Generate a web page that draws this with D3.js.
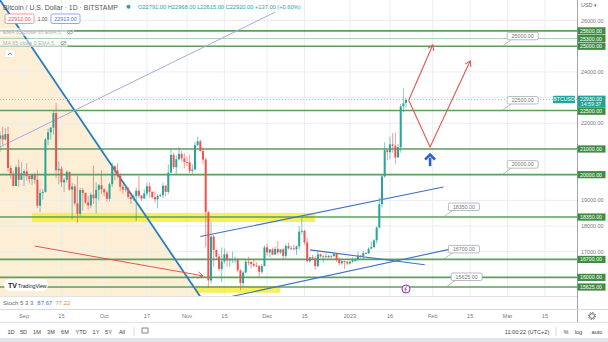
<!DOCTYPE html>
<html><head><meta charset="utf-8">
<script src="https://cdn.jsdelivr.net/npm/d3@7"></script>
<style>
html,body{margin:0;padding:0;background:#fff;overflow:hidden}
svg{display:block;font-family:"Liberation Sans",Arial,sans-serif}
</style></head><body>
<svg id="chart" width="608" height="342"></svg>
<script>
// ---- Daily BTC/USD candles, Bitstamp, from 2022-08-23 ----
const firstDay = "2022-08-23";
const opens = [
 21400,21530,21370,21580,20260,20040,19560,20290,19800,
 20050,20130,19950,19830,20000,19800,18790,19290,19320,21370,21650,21830,22400,20170,20230,19700,19800,20110,19420,19540,18880,18480,19400,19290,18920,18800,19220,19080,19410,19590,
 19430,19310,19060,19630,20330,20160,19960,19530,19420,19450,19130,19050,19160,19380,19180,19070,19270,19550,19330,19120,19040,19170,19200,19570,19330,20080,20770,20290,20600,20810,20630,
 20490,20480,20150,20200,21150,21300,20920,20590,18540,15880,17590,17070,16810,16330,16620,16900,16660,16690,16700,16700,16280,15780,16190,16610,16600,16520,16460,16440,16220,16440,
 17170,16970,17090,16890,17110,16970,17090,16840,17220,17130,17130,17090,17210,17780,17810,17360,16630,16780,16740,16440,16900,16820,16820,16780,16840,16830,16920,16700,16550,16630,16600,
 16540,16610,16670,16670,16850,16830,16950,16940,17120,17180,17440,17940,18850,19930,20950,20880,21180,21130,20670,21070,22660,22791];
const highs = [
 21680,21860,21810,21870,20350,20140,20380,20580,20490,
 20200,20440,19970,20020,20050,20170,19450,19440,21430,21800,21850,22480,22780,20520,20330,19870,20170,20110,19690,19630,19950,19490,19480,19300,19170,19300,20350,19700,19640,20170,
 19480,19400,19700,20460,20360,20440,20060,19620,19550,19520,19260,19220,19510,19950,19220,19420,19670,19700,19360,19350,19250,19260,19690,19600,20400,20990,20850,20740,21080,20920,20840,
 20700,20780,20390,21280,21470,21360,21070,20680,18590,18150,17660,17080,16910,17170,17120,17000,16750,17010,16810,16750,16310,16250,16670,16800,16610,16680,16590,16480,16530,17240,
 17320,17100,17160,17200,17420,17100,17140,17300,17350,17230,17270,17240,18000,18380,17850,17530,16800,16870,16820,17060,16920,16870,16940,16870,16860,16950,16960,16780,16660,16640,16640,
 16630,16780,16760,16990,16880,17020,16980,17170,17400,17490,17990,19100,19980,21260,21000,21480,21620,21650,21190,22750,23370,22968];
const lows = [
 20890,21160,21320,20120,19840,19550,19550,19540,19800,
 19560,19760,19660,19600,19650,18700,18540,19030,19310,21140,21360,21560,19860,19630,19520,19320,19700,19380,18270,18800,18130,18390,18600,18850,18640,18690,18860,18490,19000,19250,
 19160,18950,18960,19520,19780,19860,19350,19260,19320,19050,18860,18980,18190,19080,18980,19070,19170,19110,19070,18910,18680,19120,19080,19160,19250,20060,20220,20000,20550,20520,20240,
 20340,20060,20040,20190,21110,20900,20400,17170,15600,15750,16400,16720,16250,15820,16540,16420,16410,16560,16550,16200,15500,15620,16160,16460,16360,16410,16400,16000,16140,16430,
 16850,16800,16860,16880,16880,16910,16680,16740,17080,17090,17070,16870,17080,17660,17280,16580,16580,16680,16300,16400,16760,16570,16770,16770,16740,16790,16600,16460,16490,16330,16490,
 16500,16550,16610,16660,16750,16680,16910,16910,17100,17150,17320,17930,18720,19890,20550,20600,20850,20410,20660,20860,22420,22615];
const closes = [
 21530,21370,21580,20260,20040,19560,20290,19800,20050,
 20130,19950,19830,20000,19800,18790,19290,19320,21370,21650,21830,22400,20170,20230,19700,19800,20110,19420,19540,18880,18480,19400,19290,18920,18800,19220,19080,19410,19590,19430,
 19310,19060,19630,20330,20160,19960,19530,19420,19450,19130,19050,19160,19380,19180,19070,19270,19550,19330,19120,19040,19170,19200,19570,19330,20080,20770,20290,20600,20810,20630,20490,
 20480,20150,20200,21150,21300,20920,20590,18540,15880,17590,17070,16810,16330,16620,16900,16660,16690,16700,16700,16280,15780,16190,16610,16600,16520,16460,16440,16220,16440,17170,
 16970,17090,16890,17110,16970,17090,16840,17220,17130,17130,17090,17210,17780,17810,17360,16630,16780,16740,16440,16900,16820,16820,16780,16840,16830,16920,16700,16550,16630,16600,16540,
 16610,16670,16670,16850,16830,16950,16940,17120,17180,17440,17940,18850,19930,20950,20880,21180,21130,20670,21070,22660,22783,22920];

// ---- axes ----
const priceTicks = [16000,17000,18000,19000,20000,21000,22000,23000,24000,25000,26000];
const dateTicks = ["2022-09-01","2022-09-15","2022-10-01","2022-10-17","2022-11-01","2022-11-15","2022-12-01","2022-12-15","2023-01-01","2023-01-16","2023-02-01","2023-02-15","2023-03-01","2023-03-15"];
const dateTickLabels = ["Sep","15","Oct","17","Nov","15","Dec","15","2023","16","Feb","15","Mar","15"];

// ---- horizontal support / resistance levels ----
const levels = [25600, 25300, 25000, 22500, 21000, 20000, 18350, 16700, 16000, 15625];
const calloutPrices = [25000, 22500, 20000, 18350, 16700, 15625];
const calloutDates = ["2023-02-27","2023-02-27","2023-02-27","2023-02-05","2023-02-05","2023-02-06"];

// ---- last price ----
const lastPrice = 22930;
const lastPriceCountdown = "14:59:37";

// ---- drawings: [date, price] anchors ----
const bigTrend = [["2022-08-23", 26800], ["2022-11-06", 15250]];
const thinTrend = [["2022-08-23", 21080], ["2022-12-04", 26330]];
const channelUpper = [["2022-11-06", 17590], ["2023-02-05", 19520]];
const channelLower = [["2022-11-17", 15240], ["2023-02-08", 17110]];
const pennantTop = [["2022-12-17", 17070], ["2023-01-29", 16490]];
const redArrowLeft = [["2022-09-05", 17220], ["2022-11-07", 16060]];
const forecastA = [["2023-01-23", 22900], ["2023-02-01", 25050]];
const forecastB = [["2023-01-23", 22900], ["2023-01-31", 21080], ["2023-02-15", 24430]];
const blueArrow = [["2023-01-31", 20330], ["2023-01-31", 20780]];
const zoneUpper = [["2022-09-04", 18510], ["2022-12-19", 18160]];
const zoneLower = [["2022-11-04", 15670], ["2022-12-06", 15400]];
const eventDate = "2023-01-22";

// ---- header ----
const title = "Bitcoin / U.S. Dollar · 1D · BITSTAMP";
const ohlcText = "O22791.00 H22968.00 L22615.00 C22920.00 +137.00 (+0.60%)";
const bidAsk = ["22912.00", "1.00", "22913.00"];
const studyRows = ["EMA 65 close 65 EMA 5", "MA 65 close 0 EMA 5"];
const stochLabel = ["Stoch 5 3 3", "87.67", "77.22"];
const ranges = ["1D","5D","1M","3M","6M","YTD","1Y","5Y","All"];
const clockText = "11:00:22 (UTC+2)";

// ================= drawing =================
const parse = d3.utcParse("%Y-%m-%d");
const PANE_R = 577, PANE_B = 296;
const x = d3.scaleUtc().domain([parse("2022-08-23"), parse("2023-03-27")]).range([0, PANE_R]);
const y = d3.scaleLinear().domain([15275, 26802]).range([PANE_B, 0]);
const fmt = d3.format(".2f");
const pt = a => [x(parse(a[0])), y(a[1])];

const candles = closes.map((c, i) => ({
  date: d3.utcDay.offset(parse(firstDay), i), o: opens[i], h: highs[i], l: lows[i], c
}));

const svg = d3.select("#chart");
svg.append("rect").attr("width", 608).attr("height", 342).attr("fill", "#fff");
svg.append("defs").append("clipPath").attr("id", "paneClip")
  .append("rect").attr("x", 0).attr("y", 0).attr("width", PANE_R).attr("height", PANE_B);
const pane = svg.append("g").attr("clip-path", "url(#paneClip)");

// extend a two-point line beyond the pane
function extend(a, b, t0, t1) {
  const [x0, y0] = pt(a), [x1, y1] = pt(b);
  return [[x0 + (x1 - x0) * t0, y0 + (y1 - y0) * t0], [x0 + (x1 - x0) * t1, y0 + (y1 - y0) * t1]];
}

// shaded triangle left of the main descending trend line
{
  const [p, q] = extend(bigTrend[0], bigTrend[1], -0.2, 1.2);
  pane.append("path")
    .attr("d", d3.line()([[-20, p[1]], p, q, [-20, q[1]]]) + "Z")
    .attr("fill", "#fdefd6");
}

// grid
pane.append("g").selectAll("line").data(dateTicks).join("line")
  .attr("x1", d => x(parse(d))).attr("x2", d => x(parse(d)))
  .attr("y1", 0).attr("y2", PANE_B).attr("stroke", "#eaedf3").attr("stroke-width", 1);
pane.append("g").selectAll("line").data(priceTicks).join("line")
  .attr("x1", 0).attr("x2", PANE_R).attr("y1", d => y(d)).attr("y2", d => y(d))
  .attr("stroke", "#eaedf3").attr("stroke-width", 1);

// highlighted zones
[zoneUpper, zoneLower].forEach(z => {
  const [a, b] = [pt(z[0]), pt(z[1])];
  pane.append("rect").attr("x", a[0]).attr("y", a[1]).attr("width", b[0] - a[0]).attr("height", b[1] - a[1])
    .attr("fill", "#f5ec35").attr("opacity", 0.8);
});

// horizontal levels
pane.append("g").selectAll("line").data(levels).join("line")
  .attr("x1", 0).attr("x2", PANE_R).attr("y1", d => y(d)).attr("y2", d => y(d))
  .attr("stroke", d => d === 25300 ? "#a9cfa9" : "#5f9e5f")
  .attr("stroke-width", d => d === 25300 ? 1 : 1.6);

// trend lines
function seg(a, b, color, w) {
  const [p, q] = [pt(a), pt(b)];
  pane.append("line").attr("x1", p[0]).attr("y1", p[1]).attr("x2", q[0]).attr("y2", q[1])
    .attr("stroke", color).attr("stroke-width", w);
}
{
  const [p, q] = extend(bigTrend[0], bigTrend[1], -0.2, 1.2);
  pane.append("line").attr("x1", p[0]).attr("y1", p[1]).attr("x2", q[0]).attr("y2", q[1])
    .attr("stroke", "#2b7fc0").attr("stroke-width", 1.8);
}
seg(thinTrend[0], thinTrend[1], "#a8a9e0", 1);
seg(channelUpper[0], channelUpper[1], "#3d72c4", 1.1);
seg(channelLower[0], channelLower[1], "#3d72c4", 1.1);
seg(pennantTop[0], pennantTop[1], "#3d72c4", 1.1);

// arrows
function arrowHead(p, q, color, size, w) {
  const ang = Math.atan2(q[1] - p[1], q[0] - p[0]);
  const a1 = ang + Math.PI * 0.82, a2 = ang - Math.PI * 0.82;
  pane.append("path")
    .attr("d", d3.line()([[q[0] + size * Math.cos(a1), q[1] + size * Math.sin(a1)], q,
                         [q[0] + size * Math.cos(a2), q[1] + size * Math.sin(a2)]]))
    .attr("fill", "none").attr("stroke", color).attr("stroke-width", w);
}
function polyArrow(pts, color, w) {
  const px = pts.map(pt);
  pane.append("path").attr("d", d3.line()(px)).attr("fill", "none")
    .attr("stroke", color).attr("stroke-width", w);
  arrowHead(px[px.length - 2], px[px.length - 1], color, 6, w);
}
polyArrow(redArrowLeft, "#e2574c", 1);
polyArrow(forecastA, "#e2574c", 1.1);
polyArrow(forecastB, "#e2574c", 1.1);
{
  const [p, q] = [pt(blueArrow[0]), pt(blueArrow[1])];
  pane.append("line").attr("x1", p[0]).attr("y1", p[1]).attr("x2", q[0]).attr("y2", q[1] + 3)
    .attr("stroke", "#2962c8").attr("stroke-width", 2.6);
  pane.append("path").attr("d", d3.line()([[q[0] - 5, q[1] + 5], q, [q[0] + 5, q[1] + 5]]))
    .attr("fill", "none").attr("stroke", "#2962c8").attr("stroke-width", 2.6).attr("stroke-linejoin", "miter");
}

// candles
const up = "#26a69a", dn = "#ef5350";
const cg = pane.append("g");
cg.selectAll("line").data(candles).join("line")
  .attr("x1", d => x(d.date)).attr("x2", d => x(d.date))
  .attr("y1", d => y(d.h)).attr("y2", d => y(d.l))
  .attr("stroke", d => d.c >= d.o ? up : dn).attr("stroke-width", 0.7).attr("opacity", 0.85);
cg.selectAll("rect").data(candles).join("rect")
  .attr("x", d => x(d.date) - 1).attr("width", 2)
  .attr("y", d => y(Math.max(d.o, d.c)))
  .attr("height", d => Math.max(0.9, Math.abs(y(d.o) - y(d.c))))
  .attr("fill", d => d.c >= d.o ? up : dn);

// last price dotted line
pane.append("line").attr("x1", 0).attr("x2", PANE_R).attr("y1", y(lastPrice)).attr("y2", y(lastPrice))
  .attr("stroke", "#7fcfc6").attr("stroke-width", 1).attr("stroke-dasharray", "1,2");

// callout labels on levels
calloutPrices.forEach((p, i) => {
  const ax = x(parse(calloutDates[i])), ay = y(p);
  const bx = ax + 5, by = ay - 14, bw = 31, bh = 7.5;
  pane.append("line").attr("x1", ax).attr("y1", ay).attr("x2", bx + 4).attr("y2", by + bh)
    .attr("stroke", "#9aa0a6").attr("stroke-width", 0.7);
  pane.append("rect").attr("x", bx).attr("y", by).attr("width", bw).attr("height", bh).attr("rx", 1.5)
    .attr("fill", "#fff").attr("stroke", "#9aa0a6").attr("stroke-width", 0.7);
  pane.append("text").attr("x", bx + bw / 2).attr("y", by + 5.6).attr("text-anchor", "middle")
    .attr("font-size", 5.3).attr("fill", "#777").text(fmt(p));
});

// BTCUSD tag next to last price
{
  const ly = y(lastPrice);
  pane.append("rect").attr("x", 553).attr("y", ly - 3.7).attr("width", 22).attr("height", 7.4).attr("rx", 1)
    .attr("fill", "#26a69a");
  pane.append("text").attr("x", 564).attr("y", ly + 2).attr("text-anchor", "middle").attr("font-size", 5.2)
    .attr("fill", "#fff").text("BTCUSD");
}

// event marker
{
  const ex = x(parse(eventDate)), ey = PANE_B - 7;
  pane.append("circle").attr("cx", ex).attr("cy", ey).attr("r", 4).attr("fill", "#fff")
    .attr("stroke", "#9c27b0").attr("stroke-width", 1);
  pane.append("path").attr("d", `M${ex + 0.8},${ey - 2.6}L${ex - 1.3},${ey + 0.3}L${ex + 0.3},${ey + 0.3}L${ex - 0.8},${ey + 2.6}`)
    .attr("fill", "none").attr("stroke", "#9c27b0").attr("stroke-width", 0.8);
}

// TradingView badge
{
  const g = svg.append("g");
  g.append("rect").attr("x", 4).attr("y", 279).attr("width", 44).attr("height", 12).attr("rx", 6).attr("fill", "#fff");
  g.append("text").attr("x", 8).attr("y", 288).attr("font-size", 7).attr("font-weight", 700).attr("fill", "#131722").text("TV");
  g.append("text").attr("x", 18).attr("y", 287.5).attr("font-size", 5.2).attr("fill", "#131722").text("TradingView");
}

// collapse button
svg.append("rect").attr("x", 5).attr("y", 49.5).attr("width", 10).attr("height", 8).attr("rx", 1)
  .attr("fill", "#fff").attr("stroke", "#e0e3eb").attr("stroke-width", 0.6);
svg.append("path").attr("d", "M8,55L10,52.8L12,55").attr("fill", "none").attr("stroke", "#555").attr("stroke-width", 0.7);

// ---- price axis ----
svg.append("line").attr("x1", PANE_R + 0.5).attr("x2", PANE_R + 0.5).attr("y1", 0).attr("y2", 322)
  .attr("stroke", "#8a8e99").attr("stroke-width", 0.8);
svg.append("text").attr("x", 581).attr("y", 7).attr("font-size", 5.4).attr("fill", "#666").text("USD ▾");

// coloured labels, pushed apart when they touch
const axisTags = levels.map(v => ({ v, y: y(v), h: 7.2, color: "#3e8e41", text: fmt(v) }));
axisTags.push({ v: lastPrice, y: y(lastPrice) + 2.2, h: 12, color: "#22a393", text: fmt(lastPrice), sub: lastPriceCountdown });
axisTags.sort((a, b) => a.y - b.y);
for (let i = 1; i < axisTags.length; i++) {
  const a = axisTags[i - 1], b = axisTags[i];
  const minGap = (a.h + b.h) / 2;
  if (b.y - a.y < minGap) b.y = a.y + minGap;
}
// plain ticks where there is room
priceTicks.forEach(v => {
  const ty = y(v);
  if (ty < 12 || ty > PANE_B - 4) return;
  if (axisTags.some(t => Math.abs(t.y - ty) < (t.h / 2 + 3.5))) return;
  svg.append("text").attr("x", 581).attr("y", ty + 2).attr("font-size", 5.4).attr("fill", "#777").text(fmt(v));
});
axisTags.forEach(t => {
  svg.append("rect").attr("x", 577.5).attr("y", t.y - t.h / 2).attr("width", 28).attr("height", t.h)
    .attr("fill", t.color);
  if (t.sub) {
    svg.append("text").attr("x", 591).attr("y", t.y - 1).attr("text-anchor", "middle").attr("font-size", 5.3).attr("fill", "#fff").text(t.text);
    svg.append("text").attr("x", 591).attr("y", t.y + 4.5).attr("text-anchor", "middle").attr("font-size", 5.3).attr("fill", "#e8fffb").text(t.sub);
  } else {
    svg.append("text").attr("x", 591).attr("y", t.y + 2).attr("text-anchor", "middle").attr("font-size", 5.3).attr("fill", "#fff").text(t.text);
  }
});

// ---- lower strip: stochastic pane header, time axis, toolbar ----
svg.append("line").attr("x1", 0).attr("x2", PANE_R).attr("y1", PANE_B + 0.5).attr("y2", PANE_B + 0.5).attr("stroke", "#e0e3eb");
{
  const t = svg.append("text").attr("x", 3).attr("y", 305).attr("font-size", 6);
  t.append("tspan").attr("fill", "#666").text(stochLabel[0]);
  t.append("tspan").attr("dx", 4).attr("fill", "#4a6fd8").text(stochLabel[1]);
  t.append("tspan").attr("dx", 3).attr("fill", "#f08a3c").text(stochLabel[2]);
}
svg.append("line").attr("x1", 0).attr("x2", 608).attr("y1", 309.5).attr("y2", 309.5).attr("stroke", "#d6d9e0");
svg.append("g").selectAll("text").data(dateTicks).join("text")
  .attr("x", d => x(parse(d))).attr("y", 318).attr("text-anchor", "middle")
  .attr("font-size", 5.6).attr("fill", "#777").text((d, i) => dateTickLabels[i]);
// settings gear
{
  const gx = 592, gy = 316;
  svg.append("circle").attr("cx", gx).attr("cy", gy).attr("r", 2.4).attr("fill", "none").attr("stroke", "#555").attr("stroke-width", 0.9);
  svg.append("circle").attr("cx", gx).attr("cy", gy).attr("r", 3.6).attr("fill", "none").attr("stroke", "#555").attr("stroke-width", 0.9).attr("stroke-dasharray", "1.3,1.5");
}
svg.append("line").attr("x1", 0).attr("x2", 608).attr("y1", 322.5).attr("y2", 322.5).attr("stroke", "#e0e3eb");
const rangeX = [11, 23.5, 37, 51, 65, 81, 96, 108.5, 122];
svg.append("g").selectAll("text").data(ranges).join("text")
  .attr("x", (d, i) => rangeX[i]).attr("y", 333.5).attr("text-anchor", "middle")
  .attr("font-size", 5.6).attr("fill", "#444").text(d => d);
svg.append("line").attr("x1", 134).attr("x2", 134).attr("y1", 327).attr("y2", 336).attr("stroke", "#d6d9e0");
svg.append("rect").attr("x", 142).attr("y", 328).attr("width", 6).attr("height", 5).attr("fill", "none").attr("stroke", "#555").attr("stroke-width", 0.7);
svg.append("text").attr("x", 527).attr("y", 333.5).attr("text-anchor", "middle").attr("font-size", 5.6).attr("fill", "#444").text(clockText);
svg.append("line").attr("x1", 556).attr("x2", 556).attr("y1", 327).attr("y2", 336).attr("stroke", "#d6d9e0");
svg.append("text").attr("x", 566).attr("y", 333.5).attr("text-anchor", "middle").attr("font-size", 5.6).attr("fill", "#444").text("%");
svg.append("text").attr("x", 578.5).attr("y", 333.5).attr("text-anchor", "middle").attr("font-size", 5.6).attr("fill", "#444").text("log");
svg.append("text").attr("x", 597).attr("y", 333.5).attr("text-anchor", "middle").attr("font-size", 5.6).attr("fill", "#444").text("auto");
svg.append("rect").attr("x", 0).attr("y", 338).attr("width", 608).attr("height", 4).attr("fill", "#e3e5ea");

// ---- header legend ----
svg.append("text").attr("x", 3).attr("y", 9.5).attr("font-size", 6.9).attr("fill", "#555").text(title);
svg.append("circle").attr("cx", 128.5).attr("cy", 6.8).attr("r", 2).attr("fill", "#26a69a");
svg.append("text").attr("x", 138).attr("y", 9).attr("font-size", 5.7).attr("fill", "#26a69a").text(ohlcText);
{
  svg.append("rect").attr("x", 5).attr("y", 14).attr("width", 29).attr("height", 9.5).attr("rx", 1.5).attr("fill", "#fff").attr("stroke", "#ef5350").attr("stroke-width", 0.6);
  svg.append("text").attr("x", 19.5).attr("y", 20.8).attr("text-anchor", "middle").attr("font-size", 5.4).attr("fill", "#ef5350").text(bidAsk[0]);
  svg.append("text").attr("x", 42.5).attr("y", 20.8).attr("text-anchor", "middle").attr("font-size", 5).attr("fill", "#555").text(bidAsk[1]);
  svg.append("rect").attr("x", 51).attr("y", 14).attr("width", 29).attr("height", 9.5).attr("rx", 1.5).attr("fill", "#fff").attr("stroke", "#4a6fd8").attr("stroke-width", 0.6);
  svg.append("text").attr("x", 65.5).attr("y", 20.8).attr("text-anchor", "middle").attr("font-size", 5.4).attr("fill", "#4a6fd8").text(bidAsk[2]);
}
[[studyRows[0], 34, 70], [studyRows[1], 45, 63.5]].forEach(([txt, ty, ix]) => {
  svg.append("rect").attr("x", 0).attr("y", ty - 6).attr("width", ix + 4).attr("height", 8).attr("fill", "#fff").attr("opacity", 0.55);
  svg.append("text").attr("x", 3).attr("y", ty).attr("font-size", 5.4).attr("fill", "#aeb1b8").text(txt);
  svg.append("ellipse").attr("cx", ix).attr("cy", ty - 1.8).attr("rx", 2.6).attr("ry", 1.7).attr("fill", "none").attr("stroke", "#777").attr("stroke-width", 0.6);
  svg.append("line").attr("x1", ix - 2.5).attr("y1", ty + 0.3).attr("x2", ix + 2.5).attr("y2", ty - 3.9).attr("stroke", "#777").attr("stroke-width", 0.6);
});
</script>
</body></html>
